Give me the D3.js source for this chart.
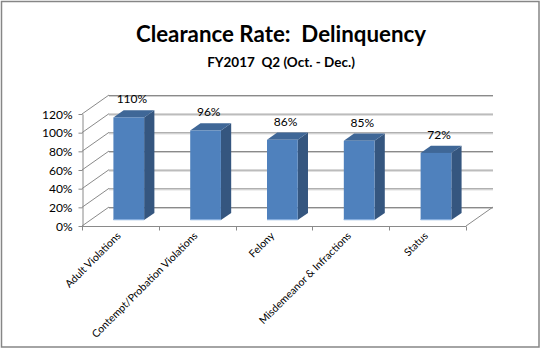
<!DOCTYPE html>
<html><head><meta charset="utf-8">
<script src="https://cdn.jsdelivr.net/npm/d3@7"></script>
<style>
html,body{margin:0;padding:0;background:#fff;}
text{font-family:Lato,"Open Sans",sans-serif;}
</style></head>
<body>
<svg id="c" width="541" height="349"></svg>
<script>
const categories = ["Adult Violations","Contempt/Probation Violations","Felony","Misdemeanor & Infractions","Status"];
const values = [110, 96, 86, 85, 72];
const labels = ["110%","96%","86%","85%","72%"];
const yTicks = [0,20,40,60,80,100,120];
const title = "Clearance Rate:  Delinquency";
const subtitle = "FY2017  Q2 (Oct. - Dec.)";

const svg = d3.select("#c");
svg.append("rect").attr("x",1.5).attr("y",1.5).attr("width",537.5).attr("height",345.5)
  .attr("fill","#fff").attr("stroke","#868686").attr("stroke-width",1.5);

const x0 = 82, x1 = 466, yb = 226, yt = 114;
const DX = 27, DY = 19;
const x = d3.scaleBand().domain(categories).range([x0,x1]).paddingInner(0).paddingOuter(0);
const y = d3.scaleLinear().domain([0,120]).range([yb,yt]);

// title
svg.append("text").attr("x",281).attr("y",42).attr("text-anchor","middle")
  .style("white-space","pre").attr("font-size",22.3).attr("font-weight","bold").attr("fill","#000").text(title);
svg.append("text").attr("x",281).attr("y",67).attr("text-anchor","middle").style("white-space","pre")
  .attr("font-size",13.5).attr("font-weight","bold").attr("fill","#000").text(subtitle);

const g = svg.append("g");
// back wall gridlines + left wall diagonals
yTicks.forEach(t=>{
  const yy = y(t);
  g.append("line").attr("x1",x0+DX).attr("x2",x1+DX).attr("y1",yy-DY+0.5).attr("y2",yy-DY+0.5)
    .attr("stroke","#8a8a8a").attr("stroke-width",1);
  g.append("line").attr("x1",x0+DX).attr("x2",x1+DX).attr("y1",yy-DY+1.5).attr("y2",yy-DY+1.5)
    .attr("stroke","#cfcfcf").attr("stroke-width",1);
  g.append("line").attr("x1",x0).attr("y1",yy).attr("x2",x0+DX).attr("y2",yy-DY)
    .attr("stroke","#8a8a8a").attr("stroke-width",1);
});
// floor right diagonal
g.append("line").attr("x1",x1).attr("y1",yb).attr("x2",x1+DX).attr("y2",yb-DY)
  .attr("stroke","#8a8a8a").attr("stroke-width",1);

// axes
const yAxis = d3.axisLeft(y).tickValues(yTicks).tickFormat(d=>d+"%").tickSize(4).tickSizeOuter(0);
const ya = svg.append("g").attr("transform",`translate(${x0+0.5},0)`).call(yAxis);
ya.select(".domain").attr("stroke","#8a8a8a");
ya.selectAll(".tick line").attr("stroke","#8a8a8a");
ya.selectAll(".tick text").attr("font-size",12).attr("font-family","Lato").attr("fill","#000").attr("x",-10).attr("dy","0.35em");

const xa = svg.append("g").attr("transform",`translate(0,${yb+0.5})`);
xa.append("line").attr("x1",x0).attr("x2",x1).attr("stroke","#8a8a8a");
categories.concat(["__end"]).forEach((c,i)=>{
  const xx = i<categories.length ? x(c) : x1;
  xa.append("line").attr("x1",Math.round(xx)+0.5).attr("x2",Math.round(xx)+0.5).attr("y1",0).attr("y2",4).attr("stroke","#8a8a8a");
});
categories.forEach(c=>{
  const cx = x(c)+x.bandwidth()/2+1, cy = 10;
  xa.append("text").attr("text-anchor","end").attr("font-size",10.5).attr("fill","#000")
    .attr("transform",`translate(${cx},${cy}) rotate(-45)`).text(c);
});

// bars
const f1 = 0.31, f2 = 0.69;
const bw = x.bandwidth()*0.4;
const bars = svg.append("g");
categories.forEach((c,i)=>{
  const v = values[i];
  const bx = x(c) + (x.bandwidth()-bw)/2 + DX*f1;
  const ybase = y(0) - DY*f1, ytop = y(v) - DY*f1;
  const ddx = DX*(f2-f1), ddy = DY*(f2-f1);
  bars.append("path").attr("d",`M${bx+bw},${ytop} L${bx+bw+ddx},${ytop-ddy} L${bx+bw+ddx},${ybase-ddy} L${bx+bw},${ybase} Z`)
    .attr("fill","#35567f");
  bars.append("path").attr("d",`M${bx},${ytop} L${bx+ddx},${ytop-ddy} L${bx+bw+ddx},${ytop-ddy} L${bx+bw},${ytop} Z`)
    .attr("fill","#3f6797");
  bars.append("rect").attr("x",bx).attr("y",ytop).attr("width",bw).attr("height",ybase-ytop).attr("fill","#4f81bd");
  bars.append("line").attr("x1",bx).attr("x2",bx+bw).attr("y1",ybase-0.5).attr("y2",ybase-0.5).attr("stroke","#8db3e2");
  svg.append("text").attr("x",x(c)+x.bandwidth()/2+11.5).attr("y",y(v)-20).attr("text-anchor","middle")
    .attr("font-size",12).attr("fill","#000").text(labels[i]);
});
</script>
</body></html>
